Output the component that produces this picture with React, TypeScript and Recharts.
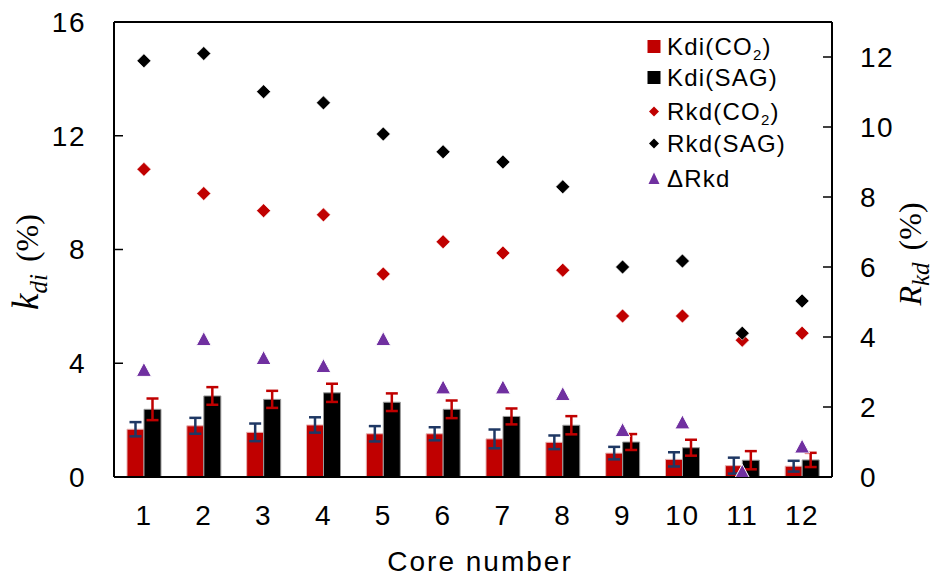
import React from 'react';
import { ComposedChart, Bar, Scatter, XAxis, YAxis, ErrorBar, ReferenceLine, Label } from 'recharts';

const cores = ['1', '2', '3', '4', '5', '6', '7', '8', '9', '10', '11', '12'];
const kdiCO2 = [1.68, 1.8, 1.57, 1.83, 1.52, 1.52, 1.34, 1.22, 0.84, 0.62, 0.4, 0.38];
const kdiCO2Err = [0.25, 0.28, 0.31, 0.27, 0.27, 0.23, 0.33, 0.24, 0.22, 0.25, 0.28, 0.19];
const kdiSAG = [2.38, 2.85, 2.73, 2.96, 2.63, 2.38, 2.13, 1.82, 1.23, 1.03, 0.59, 0.6];
const kdiSAGErr = [0.38, 0.31, 0.3, 0.32, 0.31, 0.31, 0.28, 0.32, 0.28, 0.28, 0.32, 0.25];
const rkdCO2 = [8.79, 8.1, 7.61, 7.49, 5.8, 6.72, 6.4, 5.91, 4.6, 4.6, 3.91, 4.11];
const rkdSAG = [11.89, 12.1, 11.01, 10.69, 9.8, 9.29, 9.0, 8.29, 6.0, 6.17, 4.11, 5.03];
const dRkd = [3.06, 3.94, 3.4, 3.17, 3.94, 2.56, 2.56, 2.37, 1.34, 1.56, 0.15, 0.87];
const leftTicks = [0, 4, 8, 12, 16];
const rightTicks = [0, 2, 4, 6, 8, 10, 12];

const data = cores.map((c, i) => ({
  core: c,
  kdiCO2: kdiCO2[i],
  kdiCO2Err: kdiCO2Err[i],
  kdiSAG: kdiSAG[i],
  kdiSAGErr: kdiSAGErr[i],
  rkdCO2: rkdCO2[i],
  rkdSAG: rkdSAG[i],
  dRkd: dRkd[i],
}));

const RED = '#C00000';
const NAVY = '#1F3864';
const PURPLE = '#7030A0';
const FONT = '"Liberation Sans", Arial, sans-serif';
const SERIF = '"Liberation Serif", "Times New Roman", serif';

const makeDiamond = (color: string, r: number) => (props: any) => {
  const { cx, cy } = props;
  if (cx == null || cy == null) return <g />;
  return (
    <polygon
      points={`${cx},${cy - r} ${cx + r},${cy} ${cx},${cy + r} ${cx - r},${cy}`}
      fill={color}
      stroke="#ffffff"
      strokeWidth={0.6}
    />
  );
};

const TriangleShape = (props: any) => {
  const { cx, cy } = props;
  if (cx == null || cy == null) return <g />;
  return (
    <polygon
      points={`${cx},${cy - 7.5} ${cx + 7.5},${cy + 6.5} ${cx - 7.5},${cy + 6.5}`}
      fill={PURPLE}
      stroke="#ffffff"
      strokeWidth={1}
    />
  );
};

const tickStyle = { fontFamily: FONT, fontSize: 28, fill: '#000', letterSpacing: 1.5 };

const LeftTitle = () => (
  <text transform="translate(38,262) rotate(-90)" textAnchor="middle" fontFamily={SERIF} fontSize={32} fill="#000">
    <tspan fontStyle="italic" fontSize={37}>k</tspan>
    <tspan fontStyle="italic" fontSize={25} dy={9}>di</tspan>
    <tspan dy={-9} dx={12}>(%)</tspan>
  </text>
);

const RightTitle = () => (
  <text transform="translate(921,254) rotate(-90)" textAnchor="middle" fontFamily={SERIF} fontSize={32} fill="#000">
    <tspan fontStyle="italic" fontSize={32}>R</tspan>
    <tspan fontStyle="italic" fontSize={25} dy={8}>kd</tspan>
    <tspan dy={-8} dx={12}>(%)</tspan>
  </text>
);

const BottomTitle = () => (
  <text x={480} y={571} textAnchor="middle" fontFamily={FONT} fontSize={28} letterSpacing={2} fill="#000">
    Core number
  </text>
);

const legendItems = [
  { label: 'Kdi(CO', sub: '2', tail: ')', kind: 'square', color: RED, base: 55 },
  { label: 'Kdi(SAG)', sub: '', tail: '', kind: 'square', color: '#000', base: 86 },
  { label: 'Rkd(CO', sub: '2', tail: ')', kind: 'diamond', color: RED, base: 120 },
  { label: 'Rkd(SAG)', sub: '', tail: '', kind: 'diamond', color: '#000', base: 152 },
  { label: '\u0394Rkd', sub: '', tail: '', kind: 'triangle', color: PURPLE, base: 187 },
];

const LegendOverlay = () => (
  <svg width={938} height={580} style={{ position: 'absolute', left: 0, top: 0, pointerEvents: 'none' }}>
    {legendItems.map((it) => {
      const cy = it.base - 8.5;
      const cx = 654;
      let marker;
      if (it.kind === 'square') {
        marker = <rect x={cx - 6.5} y={cy - 6.5} width={13} height={13} fill={it.color} />;
      } else if (it.kind === 'diamond') {
        marker = <polygon points={`${cx},${cy - 5} ${cx + 5},${cy} ${cx},${cy + 5} ${cx - 5},${cy}`} fill={it.color} />;
      } else {
        marker = <polygon points={`${cx},${cy - 6} ${cx + 5.5},${cy + 5.5} ${cx - 5.5},${cy + 5.5}`} fill={it.color} />;
      }
      return (
        <g key={it.label}>
          {marker}
          <text x={667} y={it.base} fontFamily={FONT} fontSize={24} letterSpacing={1.2} fill="#000">
            {it.label}
            {it.sub ? (
              <tspan fontSize={15} dy={5}>{it.sub}</tspan>
            ) : null}
            {it.tail ? <tspan dy={it.sub ? -5 : 0}>{it.tail}</tspan> : null}
          </text>
        </g>
      );
    })}
  </svg>
);

export default function App() {
  return (
    <div style={{ position: 'absolute', left: 0, top: 0, width: 938, height: 580, background: '#fff' }}>
      <ComposedChart
        width={938}
        height={580}
        data={data}
        margin={{ top: 22, right: 0, bottom: 0, left: 0 }}
        barSize={17}
        barGap={0}
      >
        <XAxis
          dataKey="core"
          height={103}
          tickLine={false}
          tickSize={0}
          tickMargin={28}
          axisLine={{ stroke: '#000', strokeWidth: 2 }}
          tick={tickStyle}
          interval={0}
        >
          <Label content={() => <BottomTitle />} />
        </XAxis>
        <YAxis
          yAxisId="left"
          orientation="left"
          width={114}
          domain={[0, 16]}
          ticks={leftTicks}
          type="number"
          allowDataOverflow
          tickSize={-9}
          tickMargin={37}
          tickLine={{ stroke: '#000', strokeWidth: 1.5 }}
          axisLine={{ stroke: '#000', strokeWidth: 2 }}
          tick={tickStyle}
        >
          <Label content={() => <LeftTitle />} />
        </YAxis>
        <YAxis
          yAxisId="right"
          orientation="right"
          width={106}
          domain={[0, 13]}
          ticks={rightTicks}
          type="number"
          allowDataOverflow
          tickSize={-9}
          tickMargin={37}
          tickLine={{ stroke: '#000', strokeWidth: 1.5 }}
          axisLine={{ stroke: '#000', strokeWidth: 2 }}
          tick={{ ...tickStyle, textAnchor: 'start' }}
        >
          <Label content={() => <RightTitle />} />
        </YAxis>
        <ReferenceLine yAxisId="left" y={16} stroke="#000" strokeWidth={2} />
        <Bar
          yAxisId="left"
          dataKey="kdiCO2"
          name="Kdi(CO₂)"
          fill={RED}
          stroke="#e6b3b3"
          strokeWidth={1}
          isAnimationActive={false}
        >
          <ErrorBar dataKey="kdiCO2Err" direction="y" width={6} stroke={NAVY} strokeWidth={2.5} />
        </Bar>
        <Bar
          yAxisId="left"
          dataKey="kdiSAG"
          name="Kdi(SAG)"
          fill="#000"
          stroke="#9a9a9a"
          strokeWidth={1}
          isAnimationActive={false}
        >
          <ErrorBar dataKey="kdiSAGErr" direction="y" width={6} stroke={RED} strokeWidth={2.5} />
        </Bar>
        <Scatter yAxisId="right" dataKey="rkdCO2" name="Rkd(CO₂)" shape={makeDiamond(RED, 7)} isAnimationActive={false} />
        <Scatter yAxisId="right" dataKey="rkdSAG" name="Rkd(SAG)" shape={makeDiamond('#000', 7)} isAnimationActive={false} />
        <Scatter yAxisId="right" dataKey="dRkd" name="ΔRkd" shape={TriangleShape} isAnimationActive={false} />
      </ComposedChart>
      <LegendOverlay />
    </div>
  );
}
